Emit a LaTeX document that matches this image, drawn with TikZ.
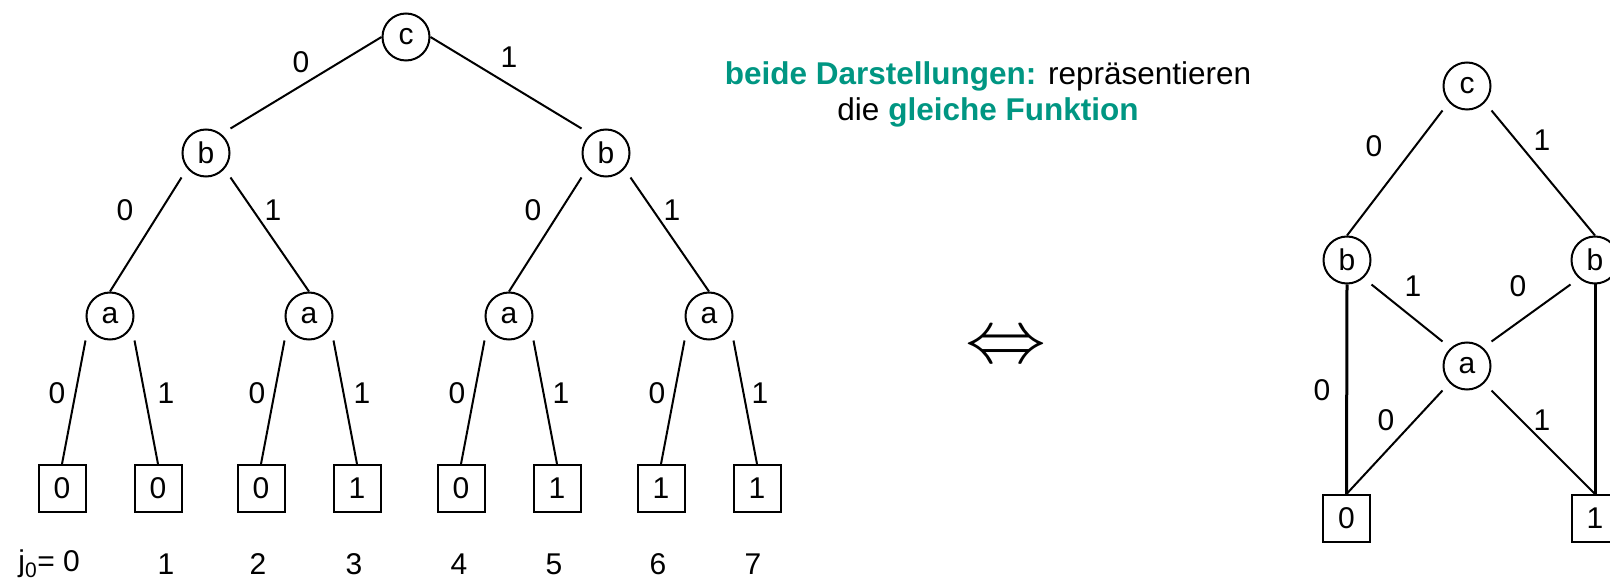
\documentclass[tikz,border=0pt]{standalone}
\usepackage{fontspec}
\setmainfont{Liberation Sans}
\usepackage{graphicx}
\definecolor{tealc}{RGB}{0,150,130}
\begin{document}
\begin{tikzpicture}[x=1pt,y=-1pt,
  big/.style={font=\fontsize{30}{36}\selectfont},
  vnode/.style={big, draw, line width=2pt, rectangle, rounded corners=23.5pt, minimum size=47pt, inner sep=0pt},
  leaf/.style={big, draw, line width=2pt, rectangle, minimum size=47pt, inner sep=0pt},
  lbl/.style={big, inner sep=0pt},
  edge/.style={line width=2pt},
  bedge/.style={line width=3pt}]
\clip (0,0) rectangle (1610,585);
% ---------- left tree ----------
\node[vnode] (c) at (406,37) {c};
\node[vnode] (bL) at (206,153) {b};
\node[vnode] (bR) at (606,153) {b};
\node[vnode] (a1) at (110,316) {a};
\node[vnode] (a2) at (309,316) {a};
\node[vnode] (a3) at (509,316) {a};
\node[vnode] (a4) at (709,316) {a};
\node[leaf] (l0) at (62,488.5) {0};
\node[leaf] (l1) at (158,488.5) {0};
\node[leaf] (l2) at (261,488.5) {0};
\node[leaf] (l3) at (357,488.5) {1};
\node[leaf] (l4) at (461,488.5) {0};
\node[leaf] (l5) at (557,488.5) {1};
\node[leaf] (l6) at (661,488.5) {1};
\node[leaf] (l7) at (757,488.5) {1};
\draw[edge] (c.west) -- (bL.north east);
\draw[edge] (c.east) -- (bR.north west);
\draw[edge] (bL.south west) -- (a1.north);
\draw[edge] (bL.south east) -- (a2.north);
\draw[edge] (bR.south west) -- (a3.north);
\draw[edge] (bR.south east) -- (a4.north);
\draw[edge] (a1.south west) -- (l0.north);
\draw[edge] (a1.south east) -- (l1.north);
\draw[edge] (a2.south west) -- (l2.north);
\draw[edge] (a2.south east) -- (l3.north);
\draw[edge] (a3.south west) -- (l4.north);
\draw[edge] (a3.south east) -- (l5.north);
\draw[edge] (a4.south west) -- (l6.north);
\draw[edge] (a4.south east) -- (l7.north);
\node[lbl] (e1) at (301,62) {0};
\node[lbl] (e2) at (509,57) {1};
\node[lbl] (e3) at (125,210) {0};
\node[lbl] (e4) at (273,210) {1};
\node[lbl] (e5) at (533,210) {0};
\node[lbl] (e6) at (672,210) {1};
\node[lbl] (f0) at (57,393) {0};
\node[lbl] (f1) at (166,393) {1};
\node[lbl] (f2) at (257,393) {0};
\node[lbl] (f3) at (362,393) {1};
\node[lbl] (f4) at (457,393) {0};
\node[lbl] (f5) at (561,393) {1};
\node[lbl] (f6) at (657,393) {0};
\node[lbl] (f7) at (760,393) {1};
% index row
\node[lbl, anchor=east] (j0) at (80,564) {j\textsubscript{0}= 0};
\node[lbl] (j1) at (166,564) {1};
\node[lbl] (j2) at (258,564) {2};
\node[lbl] (j3) at (354,564) {3};
\node[lbl] (j4) at (459,564) {4};
\node[lbl] (j5) at (554,564) {5};
\node[lbl] (j6) at (658,564) {6};
\node[lbl] (j7) at (753,564) {7};
% ---------- middle ----------
\node[align=center, inner sep=0pt, font=\fontsize{31.5}{36}\selectfont] (txt) at (988,94)
  {\textcolor{tealc}{\textbf{beide Darstellungen:}} repräsentieren\\die \textcolor{tealc}{\textbf{gleiche Funktion}}};
\node[inner sep=0pt] (eq) at (1006,349) {\scalebox{8.1}[7.5]{$\Leftrightarrow$}};
% ---------- right graph ----------
\node[vnode] (C) at (1467,86) {c};
\node[vnode] (BL) at (1347,260) {b};
\node[vnode] (BR) at (1595,260) {b};
\node[vnode] (A) at (1467,366) {a};
\node[leaf] (L0) at (1346.5,518.5) {0};
\node[leaf] (L1) at (1595,518.5) {1};
\draw[edge] (C.south west) -- (BL.north);
\draw[edge] (C.south east) -- (BR.north);
\draw[edge] (BL.south east) -- (A.north west);
\draw[edge] (BR.south west) -- (A.north east);
\draw[bedge] (BL.south) -- (L0.north);
\draw[bedge] (BR.south) -- (L1.north);
\draw[edge] (A.south west) -- (L0.north);
\draw[edge] (A.south east) -- (L1.north);
\node[lbl] (g1) at (1374,146) {0};
\node[lbl] (g2) at (1542,140) {1};
\node[lbl] (g3) at (1413,286) {1};
\node[lbl] (g4) at (1518,286) {0};
\node[lbl] (g5) at (1322,390) {0};
\node[lbl] (g6) at (1386,420) {0};
\node[lbl] (g7) at (1542,420) {1};
\end{tikzpicture}
\end{document}
